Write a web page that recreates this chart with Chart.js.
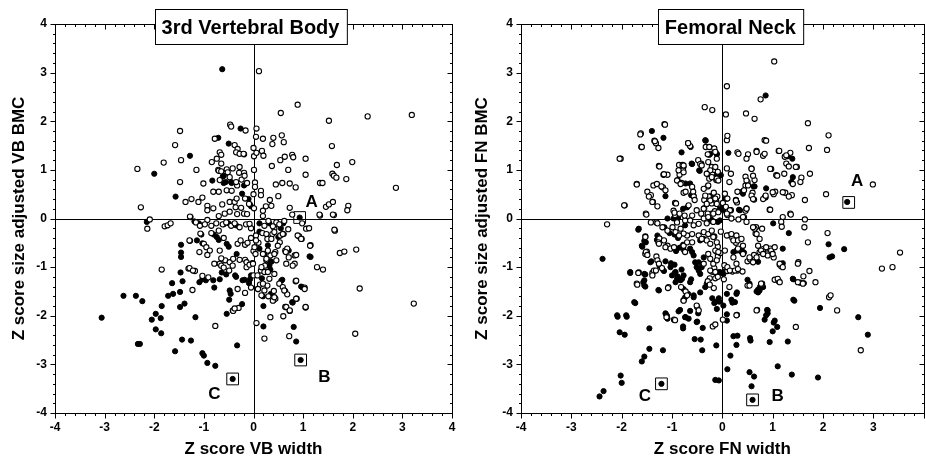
<!DOCTYPE html>
<html>
<head>
<meta charset="utf-8">
<script src="https://cdn.jsdelivr.net/npm/chart.js@4.4.1/dist/chart.umd.min.js"></script>
<style>
html, body { margin: 0; padding: 0; background: #fff; overflow: hidden; }
#wrap { position: relative; width: 926px; height: 460px; overflow: hidden; }
#vb { position: absolute; left: 0; top: 0; }
#fn { position: absolute; left: 463px; top: 0; }
</style>
</head>
<body>
<div id="wrap">
    <canvas id="vb" width="463" height="460"></canvas>
    <canvas id="fn" width="470" height="460"></canvas>
</div>
<script>
// axis ticks (both panels)
const tickValues = [-4, -3, -2, -1, 0, 1, 2, 3, 4];

// ---- 3rd Vertebral Body: [Z score VB width, Z score size adjusted VB BMC]
const vbOpen = [
    [0.11,3.03],[0.89,2.34],[0.55,2.17],[2.30,2.10],[3.19,2.13],[1.52,2.01],
    [-1.48,1.80],[-0.47,1.93],[-0.45,1.89],[-0.16,1.81],[0.06,1.85],[0.05,1.68],[0.19,1.64],[0.40,1.66],[0.57,1.71],[0.61,1.57],[0.38,1.53],
    [-1.58,1.51],[-0.78,1.64],[-0.38,1.51],[-0.32,1.43],[-0.68,1.36],[-0.65,1.31],[0.00,1.45],[0.17,1.39],[0.20,1.29],[0.01,1.28],[0.06,1.35],[-0.19,1.32],[-0.35,1.36],[-0.28,1.33],[-0.20,1.33],
    [-0.74,1.23],[-0.65,1.13],[-0.84,1.16],[-1.81,1.15],[-1.46,1.20],[0.63,1.27],[0.78,1.31],[0.80,1.26],[0.54,1.20],[1.05,1.23],[1.58,1.49],[1.68,1.10],[1.99,1.16],
    [1.59,0.92],[1.62,0.88],[1.67,0.84],[1.87,0.81],[1.05,0.90],[0.70,1.00],[0.37,1.08],[0.01,1.00],
    [-0.71,1.00],[-0.54,1.01],[-0.42,1.03],[-0.28,1.06],[-0.29,0.94],[-0.19,0.94],[-1.15,1.00],[-2.34,1.02],[-1.48,0.75],[-1.01,0.72],[-0.68,0.79],[-0.70,0.98],[-0.65,0.97],[-0.52,0.95],[-0.48,0.85],
    [-0.70,0.55],[-0.81,0.55],[-0.54,0.58],[-0.44,0.57],[-0.33,0.68],[-0.13,0.73],[0.03,0.74],[0.03,0.65],[0.15,0.57],[0.15,0.48],[0.00,0.50],[-0.35,0.75],[-0.24,0.80],[-0.18,0.88],
    [0.45,0.70],[0.58,0.73],[0.73,0.72],[0.85,0.64],[1.34,0.73],[1.39,0.73],[2.87,0.63],[0.50,0.46],[0.33,0.38],[0.25,0.25],[0.36,0.26],[0.19,0.16],[0.73,0.22],[0.78,0.08],
    [1.34,0.06],[1.46,0.24],[1.52,0.29],[1.60,0.34],[1.62,0.07],[1.91,0.26],[1.89,0.17],
    [-1.03,0.43],[-1.25,0.40],[-1.37,0.34],[-1.11,0.34],[-0.93,0.26],[-0.93,0.17],[-0.81,0.21],[-0.63,0.29],[-0.48,0.34],[-0.38,0.34],[-0.34,0.41],[-0.17,0.41],
    [-0.48,0.14],[-0.36,0.23],[-0.33,0.09],[-0.19,0.10],[-0.13,0.09],[0.01,0.21],[-0.25,0.22],[-0.58,0.10],[-0.70,0.05],[-0.09,0.30],
    [-1.27,0.03],[-2.27,0.23],[-2.09,-0.02],[-0.93,-0.03],
    [-2.14,-0.21],[-1.79,-0.16],[-1.73,-0.14],[-1.67,-0.10],[-1.28,0.04],[-1.16,-0.08],[-1.08,-0.15],[-0.98,-0.12],[-0.85,-0.15],[-0.75,-0.10],[-0.62,-0.12],[-0.55,-0.08],[-0.45,-0.15],[-0.38,-0.10],
    [-0.28,-0.18],[-0.15,-0.12],[-0.05,-0.20],[-0.08,-0.11],[0.19,0.05],[0.22,-0.15],[0.30,-0.05],[0.42,-0.20],[0.46,-0.08],[0.52,-0.12],[0.62,-0.05],[0.70,-0.22],[1.06,-0.21],[1.12,-0.20],[1.64,-0.25],[0.98,-0.10],[1.33,0.08],[1.60,0.08],
    [-1.85,-1.05],[-1.23,-1.47],[-1.31,-1.03],[-1.18,-1.08],[-1.28,-0.46],[-1.09,-0.69],[-1.00,-0.52],[-0.95,-0.59],[-0.88,-0.66],[-0.93,-0.75],[-1.03,-1.18],[-0.91,-1.21],
    [-0.79,-0.93],[-0.68,-0.93],[-0.65,-0.97],[-0.60,-1.01],[-0.57,-0.86],[-0.48,-0.90],[-0.41,-0.83],[-0.49,-1.07],[-0.42,-0.97],[-0.32,-0.52],[-0.26,-0.45],[-0.17,-0.54],[-0.12,-0.50],
    [-0.17,-0.85],[-0.14,-0.90],[-0.14,-1.00],[0.00,-0.67],[-0.02,-0.92],[0.00,-1.17],[-0.05,-1.42],[-0.17,-1.53],[-0.32,-1.45],[-0.30,-1.84],[-0.41,-1.90],[-0.77,-2.21],[0.06,-2.15],[0.22,-2.47],
    [0.08,-1.17],[0.15,-1.07],[0.23,-0.97],[0.26,-0.86],[0.34,-0.76],[0.44,-0.69],[0.32,-1.24],[0.09,-1.45],[0.13,-1.36],[0.28,-1.38],[0.41,-1.49],[0.30,-1.60],[0.40,-1.68],[0.44,-1.65],
    [0.34,-2.03],[0.60,-2.01],[0.64,-1.82],[0.73,-1.90],[0.72,-2.42],[0.68,-1.56],[0.87,-1.65],[0.85,-1.29],[1.03,-1.42],[1.05,-1.83],[0.83,-0.93],[0.83,-0.76],[0.64,-0.66],[0.68,-0.62],
    [0.53,-0.49],[0.92,-0.37],[0.97,-0.42],[1.15,-0.55],[1.28,-1.00],[1.40,-1.05],[1.74,-0.71],[1.83,-0.68],[2.07,-0.64],[2.14,-1.44],[2.05,-2.37],[3.23,-1.75],
    [-1.29,-0.45],[-1.07,-0.31],[-0.68,-0.66],[-0.65,-0.82],[-0.28,-0.85],[-0.08,-0.95],[-1.29,-1.02],[-1.22,-1.07],[-0.38,-1.85],[0.05,-0.35],[0.10,-0.50],[0.18,-0.30],[0.28,-0.42],[0.38,-0.32],
    [-0.05,-0.40],[-0.60,-0.40],[-0.85,-0.30],[-0.70,-0.25],[0.39,-0.16],[0.42,-0.28],[0.26,-0.32],[0.36,-0.42],[0.54,-0.35],[0.59,-0.32],[0.89,-0.35],[0.96,-0.42],[1.14,-0.56],[1.63,-0.23],
    [0.86,-0.75],[0.71,-0.80],[0.65,-0.69],[0.66,-0.93],[0.79,-0.97],[0.05,-0.45],[0.02,-0.59],[0.04,-0.73],[-0.01,-0.93],[0.19,-0.73],[0.26,-0.83],[0.29,-0.66],[0.42,-0.73],[0.46,-0.86],[0.49,-0.56],
    [0.16,-1.00],[0.22,-1.10],[0.29,-1.10],[0.42,-1.14],[0.19,-1.34],[0.22,-1.48],[0.09,-1.45],[0.16,-1.58],[0.39,-1.69],[0.42,-1.62],[0.52,-1.34],[0.59,-1.41],[0.86,-1.28],[1.03,-1.45],
    [0.86,-1.65],[0.66,-1.82],[0.73,-1.89],[1.05,-1.82],[0.62,-1.48]
];
const vbFilled = [
    [-0.63,3.07],[-0.26,1.85],[-0.71,1.66],[-0.50,1.54],[-1.28,1.29],[-2.00,0.92],[-0.60,0.88],[-0.83,0.78],[-0.60,0.73],[-0.44,0.73],[-0.19,0.68],[-0.23,0.51],[-0.07,0.29],[-0.05,0.25],
    [-1.57,0.45],[-0.62,0.86],[-0.56,0.75],[-0.45,0.75],[-0.10,0.40],[0.93,0.02],
    [-2.15,-0.07],[-1.19,-0.06],[-1.10,-0.10],[-0.60,-0.12],[-0.50,-0.10],[-0.35,-0.14],[0.12,-0.10],[0.32,-0.10],[0.55,-0.20],[0.60,-0.10],
    [-3.06,-2.04],[-2.62,-1.59],[-2.37,-1.59],[-2.24,-1.70],[-2.33,-2.58],[-2.29,-2.58],[-2.05,-2.08],[-1.97,-1.96],[-1.87,-2.05],[-1.97,-2.28],[-1.86,-2.36],[-1.85,-1.80],
    [-1.72,-1.59],[-1.62,-1.55],[-1.64,-1.33],[-1.48,-1.51],[-1.47,-1.11],[-1.43,-1.29],[-1.48,-1.82],[-1.39,-1.75],[-1.44,-2.49],[-1.26,-2.51],[-1.58,-2.73],[-1.17,-2.03],
    [-1.03,-2.77],[-1.00,-2.82],[-0.93,-2.97],[-0.77,-3.03],[-1.46,-0.54],[-1.46,-0.70],[-1.46,-0.79],[-1.09,-1.31],[-1.03,-1.25],[-0.96,-1.27],[-0.81,-1.27],[-0.79,-1.42],
    [-0.68,-1.25],[-0.64,-1.11],[-0.55,-1.15],[-0.37,-1.17],[-0.48,-1.48],[-0.46,-1.55],[-0.49,-1.67],[-0.54,-1.96],[-0.42,-1.89],[-0.23,-1.76],[-0.33,-2.61],[-0.34,-0.73],
    [-0.22,-1.27],[-0.07,-1.25],[-0.09,-1.33],[-1.05,-0.33],[-0.70,-0.44],[-0.50,-0.58],[-0.80,-0.33],[-0.74,-0.38],[-1.14,-0.45],[-1.03,-0.51],[-0.54,-0.52],[-0.35,-1.20],[-0.18,-1.26],
    [0.17,-1.23],[0.19,-1.60],[0.32,-0.97],[0.34,-0.88],[0.34,-1.05],[0.50,-0.38],[0.61,-0.32],[0.58,-1.26],[0.64,-1.49],[0.79,-1.73],[0.98,-1.41],[1.15,-0.79],
    [0.20,-2.22],[0.81,-2.23],[0.86,-2.53],[0.12,-0.27],[0.29,-0.55],[0.35,-1.55],[0.20,-1.80],[0.59,-0.31],[0.12,-0.62],[0.22,-0.73],[0.36,-0.89],[1.13,-0.78],[0.71,-0.66],
    [-0.05,-1.17],[0.56,-1.28],[0.78,-1.72],[0.96,-1.40],
    [0.95,-2.91],[-0.42,-3.30]
];
const vbBoxed = [[0.93,0.02],[0.95,-2.91],[-0.42,-3.30]];
const vbLetters = [["A",1.17,0.33],["B",1.43,-3.27],["C",-0.79,-3.62]];

// ---- Femoral Neck: [Z score FN width, Z score size adjusted FN BMC]
const fnOpen = [
    [1.03,3.23],[0.09,2.72],[-0.35,2.29],[-0.20,2.23],[0.07,2.14],[0.47,2.16],[0.64,2.05],[0.76,2.45],[1.70,1.96],[2.11,1.71],[2.08,1.41],[1.72,1.45],
    [-1.15,1.94],[-1.62,1.75],[-1.61,1.47],[-1.35,1.60],[-1.32,1.55],[-1.27,1.45],[-2.02,1.23],[-1.70,0.71],[-1.94,0.27],[-2.29,-0.12],[-1.49,0.55],[-1.42,0.48],
    [-1.37,0.68],[-1.30,0.71],[-1.18,0.64],[-1.38,0.34],[-1.29,0.25],[-1.26,1.08],[-1.17,0.90],[-1.09,0.90],[-1.52,0.10],[-0.94,0.32],[-0.97,0.16],[-0.94,0.07],
    [-0.86,0.98],[-0.85,0.90],[-0.86,1.10],[-0.89,0.79],[-0.81,0.73],[-0.79,1.10],[-0.78,0.99],[-0.77,0.53],[-0.73,0.55],[-0.68,1.55],[-0.64,1.49],[-0.60,0.65],
    [-0.58,0.55],[-0.57,0.45],[-0.55,0.38],[-0.48,1.20],[-0.42,1.13],[-0.33,1.47],[-0.26,1.47],[-0.16,1.44],[-0.14,1.37],[-0.29,1.32],[-0.21,1.06],[-0.16,1.00],
    [-0.09,0.96],[-0.12,0.79],[-0.26,0.82],[-0.29,0.92],[-0.29,0.66],[-0.27,0.45],[-0.36,0.38],[-0.30,0.31],[-0.21,0.31],[-0.17,0.53],[-0.10,0.45],[-0.12,0.35],
    [-0.36,0.21],[-0.42,0.10],[-0.29,0.10],[-0.15,0.15],
    [0.09,1.61],[0.10,1.70],[0.09,1.03],[0.17,0.92],[0.14,0.75],[0.05,0.51],[0.10,0.41],[0.01,0.32],[0.07,0.24],[0.17,0.17],[0.10,0.07],[0.27,0.38],[0.29,0.33],
    [0.30,0.55],[0.46,0.68],[0.50,0.75],[0.46,0.86],[0.51,1.32],[0.30,1.36],[0.58,1.03],[0.64,0.79],[0.68,1.39],[0.81,1.29],[0.84,1.61],[0.97,1.02],[1.07,0.89],
    [1.12,1.39],[1.24,1.27],[1.27,1.13],[1.35,1.35],[1.48,1.06],[1.74,0.92],[1.57,0.84],[1.55,0.75],[1.05,0.55],[1.02,0.50],[1.25,0.53],[1.38,0.48],[1.64,0.38],
    [2.06,0.50],[2.99,0.70],[0.94,0.18],[1.20,0.03],[1.35,0.10],[0.60,0.53],[0.63,0.39],[0.48,0.21],[0.46,0.16],[0.43,0.03],[1.64,-0.02],[0.67,-0.18],[0.79,-0.21],
    [1.17,-0.07],[1.18,-0.17],[1.63,-0.18],
    [0.32,1.33],[0.48,1.23],[0.68,1.37],[0.84,1.33],[0.87,1.60],[1.13,1.39],[1.27,1.30],[1.32,1.07],[1.46,1.06],[0.95,1.02],[1.09,0.88],[1.23,0.92],[1.40,0.71],
    [0.58,1.02],[0.61,0.88],[0.48,0.78],[0.51,0.68],[0.43,0.58],[0.58,0.47],[0.61,0.40],[0.81,0.40],[0.86,0.47],[1.00,0.54],[1.20,0.54],[1.32,0.45],
    [0.27,0.37],[0.48,0.20],[0.15,0.17],[0.95,0.18],[1.36,0.08],
    [-0.44,1.12],[-0.41,1.09],[-0.28,1.16],[-0.11,1.23],[-0.14,1.06],[-0.24,0.99],[-0.31,0.92],[-0.21,0.85],[-0.11,0.82],[-0.08,0.78],[-0.28,0.68],[-0.37,0.61],
    [-0.34,0.47],[-0.24,0.37],[-0.14,0.41],[-0.11,0.30],[-0.31,0.30],[-0.37,0.20],[-0.51,0.17],[-0.60,0.06],[-0.67,0.27],[-0.74,-0.04],[-0.64,-0.04],[-0.37,0.00],
    [-0.28,0.03],[-0.18,0.10],[-0.08,0.13],[0.09,0.10],[0.18,0.00],[0.32,-0.02],[0.41,0.03],
    [-1.14,1.93],[-1.63,1.73],[-1.34,1.59],[-1.60,1.47],[-0.68,1.55],[-2.04,1.23],[-1.25,1.07],[-1.16,0.91],[-0.87,0.99],[-0.77,0.95],[-0.77,1.09],[-0.90,0.78],
    [-0.83,0.71],[-1.70,0.70],[-1.46,0.45],[-1.39,0.34],[-1.21,0.66],[-1.13,0.58],[-1.95,0.27],[-1.51,0.08],[-0.92,0.31],[-0.95,0.12],[-0.85,0.10],[-0.75,0.06],
    [-1.42,-0.08],[-1.31,-0.08],[-0.90,-0.08],
    [3.17,-1.03],[3.38,-1.00],[3.53,-0.70],[2.75,-2.71],[2.12,-1.62],[2.15,-1.58],[2.28,-1.89],[1.85,-1.31],[1.73,-1.08],[1.51,-0.90],[1.70,-0.49],[2.09,-0.30],
    [1.46,-2.23],[1.55,-1.32],[1.60,-1.34],[1.61,-1.19],[1.04,-1.26],[1.12,-1.29],[1.14,-0.95],[1.17,-0.98],[0.79,-1.34],[0.69,-1.88],[0.29,-1.98],[0.01,-2.08],
    [-0.19,-2.22],[-0.14,-2.18],[-0.50,-1.82],[-0.96,-2.08],[-1.11,-2.03],[-0.77,-1.68],[-0.73,-1.50],[-0.17,-1.43],[-0.14,-1.23],[-0.09,-1.20],[0.03,-1.25],
    [0.14,-1.41],[0.50,-1.38],[0.50,-0.88],[0.55,-0.84],[0.63,-0.75],[0.74,-0.69],[0.81,-0.63],[0.89,-0.72],[1.02,-0.80],[0.95,-0.62],
    [-1.70,-1.34],[-1.66,-1.11],[-1.39,-1.12],[-1.36,-1.07],[-1.20,-1.02],[-1.07,-1.41],[-0.82,-1.41],[-1.53,-0.37],[-1.50,-0.68],[-1.53,-0.73],[-1.25,-0.41],
    [-1.27,-0.49],[-1.09,-0.56],[-0.21,-1.09],[-0.16,-1.02],[-0.25,-1.23],[-0.29,-1.29],[-0.25,-1.36],[0.10,-1.08],[0.20,-1.09],[0.30,-1.07],[0.40,-1.09],
    [0.04,-0.96],[0.10,-1.00],[-0.09,-0.58],[-0.12,-0.68],[-0.09,-0.78],[-0.04,-0.71],[-0.16,-0.37],[-0.03,-0.27],[0.14,-0.34],[0.20,-0.40],[0.27,-0.50],[0.66,-0.31],
    [-0.70,-0.35],[-0.60,-0.32],[-0.47,-0.35],[-0.37,-0.28],[-0.28,-0.32],[-0.21,-0.25],[-0.18,-0.38],[-0.31,-0.45],[-0.41,-0.42],[-0.24,-0.52],[-0.11,-0.49],
    [-0.14,-0.66],[-0.28,-0.73],[-0.24,-0.83],[-0.18,-0.93],[-0.11,-0.86],[-0.08,-0.69],[0.05,-0.66],[0.09,-0.35],[0.18,-0.32],[0.28,-0.35],[0.22,-0.45],[0.31,-0.45],
    [0.38,-0.42],[0.41,-0.56],[0.31,-0.62],[0.41,-0.73],[0.22,-0.80],[0.15,-1.07],[0.25,-1.07],[0.31,-1.04],[0.28,-0.93],[0.54,-0.80],[0.61,-0.90],[0.68,-0.80],
    [0.77,-0.66],[0.71,-0.56],[0.74,-0.42],[0.64,-0.21],[0.68,-0.32],[0.87,-0.59],[0.97,-0.66],[0.90,-0.76],[0.81,-0.73],[1.04,-0.59],[1.00,-0.73],[1.14,-0.93],
    [1.20,-1.00],[1.10,-1.24],[1.14,-1.31],[1.50,-0.93],[1.50,-1.31],[0.54,-1.38],[0.77,-1.34],[-0.51,-1.79],[-0.47,-1.89],[0.28,-1.99],[0.68,-1.89],[-0.24,-1.07],
    [-0.14,-1.10],[-0.37,-0.93],[-0.74,-0.69],[-0.77,-0.56],[-0.70,-0.49],[-0.60,-0.49],[-0.57,-0.14],[-0.47,-0.11],[-0.31,-0.10],[-0.18,-0.07],[0.48,-0.07],[0.61,-0.18],
    [-1.53,-0.38],[-1.52,-0.69],[-1.49,-0.75],[-1.31,-0.78],[-1.29,-0.86],[-1.26,-0.93],[-1.32,-1.07],[-1.26,-0.52],[-1.16,-0.45],[-1.29,-0.10],[-1.19,-0.18],
    [-1.09,-0.25],[-0.99,-0.18],[-0.93,-0.28],[-0.83,-0.21],[-0.77,-0.31],[-0.86,-0.35],[-1.13,-0.59],[-1.03,-0.62],[-0.96,-0.59],[-1.67,-1.12],[-1.69,-1.36],
    [-1.39,-1.17],[-1.08,-1.43],[-0.94,-2.09],[-0.77,-1.69],[-0.70,-1.58]
];
const fnFilled = [
    [-1.40,1.80],[-1.17,1.66],[-0.81,1.36],[-0.63,1.47],[-0.61,1.13],[-0.46,0.99],[-0.34,1.61],[-0.11,1.32],[-0.26,1.31],[0.12,1.35],[-0.03,0.89],[-1.20,0.65],
    [-1.13,0.46],[-0.73,0.72],[-0.62,0.48],[-0.24,0.46],[0.01,0.29],[0.09,0.41],[0.33,0.18],[0.39,0.55],[0.43,0.58],[0.64,0.66],[0.87,0.62],[0.86,0.43],
    [1.30,1.28],[1.39,1.23],[1.37,0.75],[0.86,2.53],[-1.09,0.00],[-0.97,0.00],[-0.88,0.01],[-0.22,0.10],[-0.21,-0.03],[-0.09,-0.07],[1.01,-0.10],[-1.66,-0.21],
    [-1.15,-0.18],[-0.77,1.06],[-0.64,0.72],[-0.57,0.47],[-0.05,0.20],[0.02,0.17],[0.05,0.40],[-0.24,-0.05],[-0.05,-0.04],[1.40,0.85],[0.41,0.51],[0.62,0.66],
    [0.84,0.44],[0.35,0.17],[-0.78,0.20],[-0.70,0.23],[-0.33,1.60],[-0.24,1.33],[-0.11,1.33],[-0.60,1.12],[-0.45,0.98],[-0.11,0.90],[-0.05,0.88],
    [2.48,0.34],
    [-2.38,-0.83],[-2.09,-1.99],[-1.91,-1.99],[-2.04,-2.34],[-1.94,-2.39],[-1.60,-0.56],[-1.55,-0.46],[-1.83,-1.10],[-1.55,-1.14],[-1.55,-1.27],[-1.55,-1.38],
    [-1.75,-1.72],[-1.73,-1.74],[-1.45,-2.26],[-1.45,-2.68],[-1.55,-2.84],[-1.60,-2.94],[-2.02,-3.23],[-2.00,-3.38],[-2.36,-3.55],[-2.44,-3.66],[-1.18,-2.71],
    [-1.27,-1.47],[-1.41,-0.88],[-1.30,-0.44],[-1.13,-1.95],[-1.10,-2.00],[-1.02,-0.92],[-0.95,-0.95],[-0.94,-1.11],[-0.89,-1.19],[-0.84,-1.26],[-0.81,-1.05],
    [-0.80,-1.24],[-0.78,-2.22],[-0.78,-2.26],[-0.84,-1.88],[-0.73,-2.03],[-0.64,-1.90],[-0.62,-1.25],[-0.68,-1.55],[-0.57,-1.58],[-0.50,-2.12],[-0.55,-2.48],
    [-0.43,-2.49],[-0.40,-2.71],[-0.39,-2.25],[-0.48,-1.95],[-0.20,-1.64],[-0.16,-1.74],[-0.07,-1.64],[-0.06,-1.71],[-0.09,-1.11],[-0.01,-1.12],[0.04,-1.09],
    [-0.12,-2.61],[-0.14,-3.32],[-0.07,-3.33],[0.09,-1.97],[0.09,-1.55],[0.18,-1.67],[0.20,-1.73],[0.29,-1.52],[0.16,-2.82],[0.10,-3.10],[0.22,-2.42],[0.30,-2.41],
    [0.28,-2.60],[0.55,-2.46],[0.56,-2.51],[0.54,-3.16],[0.63,-3.25],[0.58,-3.45],[0.50,-1.26],[0.68,-1.50],[0.71,-1.46],[0.75,-1.40],[0.71,-0.89],[0.89,-1.88],
    [0.90,-1.95],[0.84,-2.08],[0.94,-2.54],[1.02,-2.14],[1.09,-2.23],[1.00,-2.32],[1.10,-3.04],[1.30,-2.53],[1.38,-3.21],[1.41,-1.67],[1.41,-1.25],[1.62,-1.33],
    [1.90,-3.27],[1.94,-1.84],[2.11,-0.53],[2.13,-0.80],[2.18,-0.78],[2.42,-0.63],[2.70,-2.03],[2.89,-2.39],[1.20,-0.92],[1.32,-0.30],[0.99,-0.70],[0.43,-0.70],
    [0.37,-0.68],
    [-0.74,-0.14],[-0.64,-0.62],[-0.60,-0.69],[-0.57,-0.76],[-0.54,-0.90],[-0.51,-1.00],[-0.47,-1.07],[-0.44,-1.14],[-0.41,-1.00],[-0.47,-0.90],[-0.37,-0.80],
    [-0.31,-1.34],[-0.34,-1.41],[-0.44,-1.52],[-0.57,-1.62],[-0.64,-1.31],[-0.18,-1.10],[-0.11,-1.14],[-0.05,-1.10],[0.02,-1.14],[0.22,-0.69],[0.28,-0.66],
    [0.38,-0.62],[0.41,-0.69],[0.54,-1.34],[0.71,-1.52],[0.74,-1.48],[0.81,-1.41],[1.20,-0.62],[1.40,-1.24],[1.43,-1.69],[-0.44,-0.45],[-0.37,-0.42],[-0.08,-1.69],
    [-0.14,-1.72],[-0.11,-1.86],[0.02,-1.79],[0.28,-1.55],[0.25,-1.72],[0.90,-1.89],[0.87,-1.99],[1.04,-2.10],[-0.77,-1.45],[-0.74,-1.62],[-0.67,-2.06],[-0.51,-2.13],
    [0.09,-2.10],
    [-1.67,-0.23],[-1.52,-0.49],[-1.59,-0.58],[-1.43,-0.90],[-1.25,-0.97],[-1.19,-1.04],[-1.16,-1.08],[-1.13,-0.88],[-1.29,-0.35],[-1.83,-1.12],[-1.53,-1.15],
    [-1.57,-1.31],[-1.53,-1.40],[-1.26,-1.48],[-1.03,-1.00],[-1.00,-1.17],[-0.93,-1.10],[-0.90,-1.24],[-0.93,-1.31],[-0.83,-1.27],[-0.77,-1.17],[-2.08,-2.02],
    [-1.90,-2.02],[-1.12,-1.97],[-1.09,-2.06],[-0.87,-1.91],[-0.74,-2.03],[-1.05,-0.30],[-0.95,-0.33],[-0.88,-0.40],[-0.78,-0.54],[-0.85,-0.60],[-0.76,-0.66],
    [-0.92,-0.67],
    [-1.21,-3.40],[0.60,-3.73]
];
const fnBoxed = [[2.51,0.33],[0.60,-3.73],[-1.21,-3.40]];
const fnLetters = [["A",2.68,0.76],["B",1.10,-3.66],["C",-1.54,-3.66]];

const FONT = "'Liberation Sans', Arial, Helvetica, sans-serif";

function toXY(list) {
    return list.map(p => ({ x: p[0], y: p[1] }));
}

function framePlugin(title, titleX, letters) {
    return {
        id: "frame",
        beforeDatasetsDraw(chart) {
            const { ctx, chartArea: a, scales } = chart;
            const x = scales.x, y = scales.y;
            ctx.save();
            ctx.strokeStyle = "#000";
            ctx.lineWidth = 1;

            // cross lines at zero
            let x0 = Math.round(x.getPixelForValue(0)) + 0.5;
            let y0 = Math.round(y.getPixelForValue(0)) + 0.5;
            ctx.beginPath();
            ctx.moveTo(a.left, y0); ctx.lineTo(a.right, y0);
            ctx.moveTo(x0, a.top); ctx.lineTo(x0, a.bottom);
            ctx.stroke();

            // frame
            let l = Math.round(a.left) + 0.5, r = Math.round(a.right) + 0.5;
            let t = Math.round(a.top) + 0.5, b = Math.round(a.bottom) + 0.5;
            ctx.strokeRect(l, t, r - l, b - t);

            // ticks every 0.2, longer on integers
            ctx.beginPath();
            for (let i = -20; i <= 20; i++) {
                let v = i / 5;
                let len = (i % 5 === 0) ? 5 : 2.5;
                let px = Math.round(x.getPixelForValue(v)) + 0.5;
                let py = Math.round(y.getPixelForValue(v)) + 0.5;
                ctx.moveTo(px, b); ctx.lineTo(px, b + len);
                ctx.moveTo(px, t); ctx.lineTo(px, t + len);
                ctx.moveTo(l, py); ctx.lineTo(l - len, py);
                ctx.moveTo(r, py); ctx.lineTo(r - len, py);
            }
            ctx.stroke();
            ctx.restore();
        },
        afterDatasetsDraw(chart) {
            const { ctx, scales } = chart;
            ctx.save();
            // title box
            ctx.font = "bold 20px " + FONT;
            let w = ctx.measureText(title).width + 14;
            let cx = scales.x.getPixelForValue(titleX);
            let bx = Math.round(cx - w / 2) + 0.5;
            ctx.fillStyle = "#fff";
            ctx.fillRect(bx, 9.5, w, 35);
            ctx.strokeStyle = "#000";
            ctx.lineWidth = 1;
            ctx.strokeRect(bx, 9.5, w, 35);
            ctx.fillStyle = "#000";
            ctx.textAlign = "center";
            ctx.textBaseline = "middle";
            ctx.fillText(title, cx, 28);

            // point letters
            ctx.font = "bold 17px " + FONT;
            for (let lt of letters) {
                ctx.fillText(lt[0], scales.x.getPixelForValue(lt[1]), scales.y.getPixelForValue(lt[2]));
            }
            ctx.restore();
        }
    };
}

function makeChart(id, openPts, filledPts, boxed, letters, title, titleX, xTitle, yTitle, yWidth, padRight, yTitlePad, hideLast) {
    const ctx = document.getElementById(id).getContext("2d");
    return new Chart(ctx, {
        type: "scatter",
        data: {
            datasets: [
                {
                    data: toXY(openPts),
                    pointRadius: 2.6,
                    pointBorderWidth: 1.1,
                    pointBackgroundColor: "#fff",
                    pointBorderColor: "#000"
                },
                {
                    data: toXY(filledPts),
                    pointRadius: 2.6,
                    pointBorderWidth: 1,
                    pointBackgroundColor: "#000",
                    pointBorderColor: "#000"
                },
                {
                    data: toXY(boxed),
                    pointStyle: "rect",
                    pointRadius: 8.3,
                    pointBorderWidth: 1,
                    pointBackgroundColor: "rgba(0,0,0,0)",
                    pointBorderColor: "#000"
                }
            ]
        },
        options: {
            responsive: false,
            animation: false,
            events: [],
            layout: { padding: { top: 24, right: padRight, left: 0, bottom: 0 } },
            plugins: {
                legend: { display: false },
                tooltip: { enabled: false }
            },
            scales: {
                x: {
                    type: "linear",
                    min: -4,
                    max: 4,
                    afterFit: function (scale) { scale.height = 47; },
                    afterBuildTicks: function (scale) { scale.ticks = tickValues.map(v => ({ value: v })); },
                    grid: { display: false, drawTicks: false },
                    border: { display: false },
                    ticks: {
                        color: "#000",
                        padding: 7,
                        maxRotation: 0,
                        font: { family: FONT, size: 12, weight: "bold" },
                        callback: function (v) { return (hideLast && v === 4) ? "" : String(v); }
                    },
                    title: {
                        display: true,
                        text: xTitle,
                        color: "#000",
                        padding: { top: 0, bottom: 0 },
                        font: { family: FONT, size: 17, weight: "bold" }
                    }
                },
                y: {
                    type: "linear",
                    min: -4,
                    max: 4,
                    afterFit: function (scale) { scale.width = yWidth; },
                    afterBuildTicks: function (scale) { scale.ticks = tickValues.map(v => ({ value: v })); },
                    grid: { display: false, drawTicks: false },
                    border: { display: false },
                    ticks: {
                        color: "#000",
                        padding: 8,
                        font: { family: FONT, size: 12, weight: "bold" },
                        callback: function (v) { return String(v); }
                    },
                    title: {
                        display: true,
                        text: yTitle,
                        color: "#000",
                        padding: { top: yTitlePad, bottom: 0 },
                        font: { family: FONT, size: 17, weight: "bold" }
                    }
                }
            }
        },
        plugins: [framePlugin(title, titleX, letters)]
    });
}

makeChart("vb", vbOpen, vbFilled, vbBoxed, vbLetters, "3rd Vertebral Body", -0.06,
    "Z score VB width", "Z score size adjusted VB BMC", 55, 11, 9, false);
makeChart("fn", fnOpen, fnFilled, fnBoxed, fnLetters, "Femoral Neck", 0.16,
    "Z score FN width", "Z score size adjusted FN BMC", 58, 6, 9, true);
</script>
</body>
</html>
